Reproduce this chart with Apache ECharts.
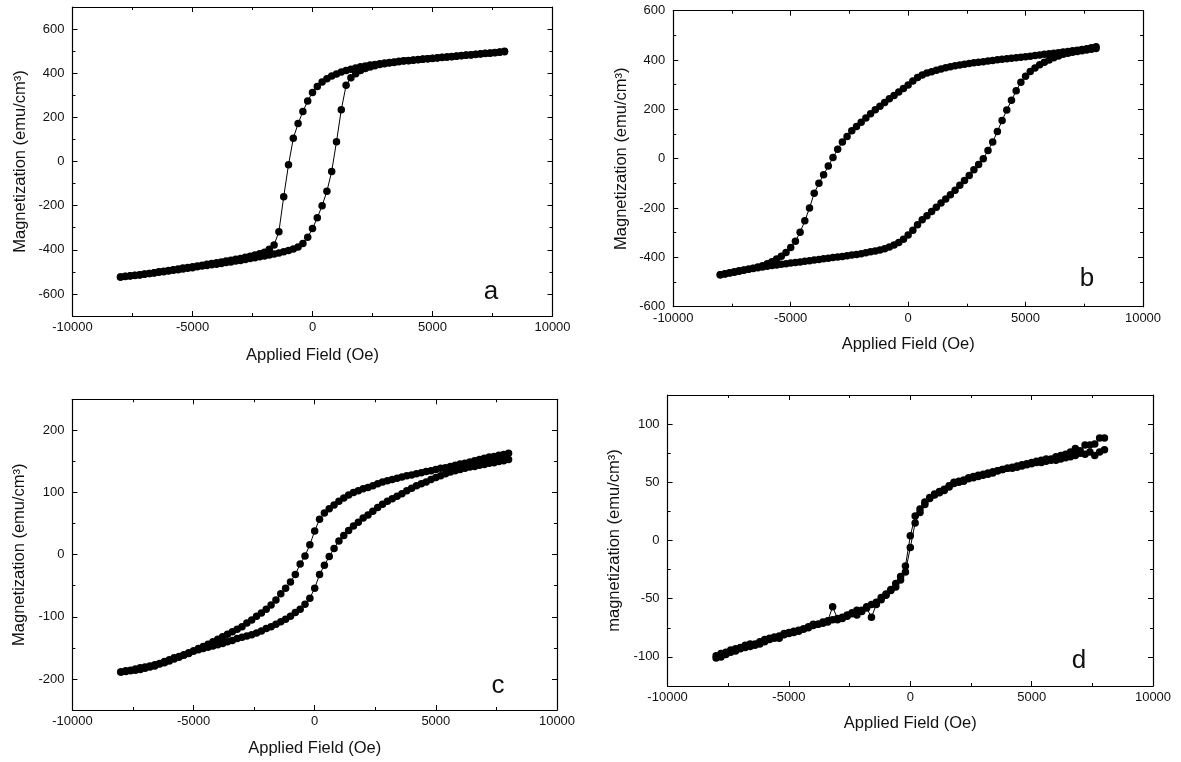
<!DOCTYPE html>
<html>
<head>
<meta charset="utf-8">
<title>Hysteresis loops a-d</title>
<script src="https://cdn.jsdelivr.net/npm/echarts@6/dist/echarts.min.js"></script>
<style>
html, body { margin: 0; padding: 0; background: #fff; }
#chart { width: 1181px; height: 762px; }
</style>
</head>
<body>
<div id="chart"></div>
<script>
'use strict';
// 外加磁场 (Oe)，四个样品共用同一组扫描点
var FIELD = [-8000, -7800, -7600, -7400, -7200, -7000, -6800, -6600, -6400, -6200,
    -6000, -5800, -5600, -5400, -5200, -5000, -4800, -4600, -4400, -4200,
    -4000, -3800, -3600, -3400, -3200, -3000, -2800, -2600, -2400, -2200,
    -2000, -1800, -1600, -1400, -1200, -1000, -800, -600, -400, -200,
    0, 200, 400, 600, 800, 1000, 1200, 1400, 1600, 1800,
    2000, 2200, 2400, 2600, 2800, 3000, 3200, 3400, 3600, 3800,
    4000, 4200, 4400, 4600, 4800, 5000, 5200, 5400, 5600, 5800,
    6000, 6200, 6400, 6600, 6800, 7000, 7200, 7400, 7600, 7800, 8000];

// 样品 a：下降支 / 上升支 (emu/cm3)，按 FIELD 顺序
var A_DOWN = [-523, -520, -518, -515, -513, -510, -507, -504, -500, -497,
    -494, -490, -487, -483, -480, -477, -473, -470, -466, -462,
    -459, -455, -451, -447, -443, -439, -434, -429, -424, -418,
    -411, -398, -378, -318, -160, -15, 105, 172, 226, 274,
    313, 340, 360, 375, 387, 397, 405, 412, 418, 424,
    429, 433, 437, 440, 443, 446, 449, 451, 454, 456,
    458, 460, 462, 464, 466, 468, 470, 472, 474, 476,
    478, 480, 482, 484, 486, 488, 490, 492, 494, 496, 499];
var A_UP = [-523, -521, -519, -516, -514, -511, -508, -505, -502, -499,
    -496, -493, -490, -487, -484, -481, -477, -474, -471, -468,
    -465, -462, -458, -455, -451, -448, -444, -440, -436, -432,
    -428, -424, -419, -414, -409, -403, -396, -387, -372, -343,
    -304, -255, -200, -135, -45, 90, 235, 345, 380, 398,
    412, 421, 428, 434, 439, 443, 446, 449, 452, 455,
    457, 459, 461, 463, 465, 467, 469, 471, 473, 475,
    477, 479, 481, 483, 485, 487, 489, 491, 493, 495, 497];

// 样品 b
var B_DOWN = [-470, -467, -463, -460, -456, -452, -448, -444, -439, -434,
    -426, -418, -407, -395, -380, -360, -335, -298, -252, -200,
    -140, -100, -65, -30, 5, 38, 68, 90, 113, 131,
    148, 165, 182, 198, 213, 228, 243, 256, 270, 285,
    299, 315, 329, 339, 347, 353, 359, 364, 369, 373,
    377, 380, 383, 386, 389, 391, 393, 396, 398, 401,
    403, 405, 407, 409, 411, 413, 415, 418, 420, 423,
    425, 428, 430, 433, 435, 438, 440, 443, 446, 450, 454];
var B_UP = [-470, -466, -462, -458, -454, -451, -448, -445, -442, -439,
    -436, -433, -431, -428, -426, -423, -421, -419, -416, -414,
    -411, -409, -406, -404, -401, -399, -396, -393, -390, -388,
    -385, -381, -377, -374, -370, -365, -358, -350, -340, -327,
    -309, -290, -268, -248, -231, -214, -197, -180, -163, -146,
    -128, -108, -88, -68, -45, -24, 0, 33, 68, 110,
    155, 197, 237, 275, 310, 334, 354, 368, 381, 391,
    400, 409, 416, 423, 428, 432, 435, 438, 441, 444, 447];

// 样品 c
var C_DOWN = [-189, -188, -187, -186, -185, -183, -181, -179, -176, -174,
    -171, -168, -165, -162, -159, -155, -151, -148, -144, -140,
    -136, -132, -128, -124, -120, -116, -110, -105, -99, -94,
    -88, -81, -73, -63, -54, -44, -32, -15, -2, 16,
    38, 57, 67, 74, 80, 86, 91, 96, 100, 103,
    106, 108, 111, 114, 117, 119, 121, 123, 125, 127,
    128, 130, 132, 134, 135, 137, 139, 140, 142, 144,
    146, 147, 149, 151, 153, 155, 157, 158, 160, 161, 163];
var C_UP = [-189, -187, -186, -184, -182, -181, -179, -177, -175, -172,
    -169, -166, -164, -161, -158, -155, -153, -151, -149, -147,
    -145, -143, -140, -138, -135, -133, -131, -129, -126, -123,
    -119, -116, -112, -108, -104, -99, -93, -88, -80, -70,
    -54, -32, -17, -3, 10, 22, 31, 39, 46, 52,
    59, 64, 70, 76, 81, 86, 90, 94, 98, 103,
    107, 111, 114, 117, 121, 124, 127, 130, 133, 135,
    137, 139, 141, 142, 144, 145, 147, 148, 150, 151, 153];

// 样品 d
var D_DOWN = [-99, -97, -96, -94, -93, -92, -90, -89, -89, -87,
    -85, -84, -83, -82, -80, -79, -78, -77, -76, -74,
    -72, -72, -70, -69, -57, -67, -66, -64, -62, -60,
    -60, -57, -55, -53, -49, -46, -42, -37, -31, -22,
    4, 21, 27, 33, 37, 40, 42, 44, 47, 50,
    51, 52, 54, 54, 56, 57, 58, 59, 60, 61,
    62, 63, 64, 65, 66, 67, 68, 69, 70, 70,
    72, 73, 74, 76, 79, 77, 82, 82, 83, 88, 88];
var D_UP = [-101, -100, -98, -96, -95, -93, -92, -91, -90, -89,
    -87, -85, -84, -84, -81, -80, -79, -78, -76, -75,
    -73, -72, -71, -70, -68, -68, -67, -65, -63, -64,
    -61, -58, -66, -55, -51, -47, -43, -40, -34, -27,
    -6, 15, 24, 31, 36, 39, 41, 43, 46, 49,
    50, 51, 53, 55, 55, 56, 57, 58, 60, 61,
    62, 62, 63, 64, 65, 66, 67, 67, 68, 69,
    69, 70, 71, 72, 73, 75, 74, 76, 73, 76, 78];

// 刻度标签
var X_TICKS = [-10000, -5000, 0, 5000, 10000];
var Y_TICKS_A = [-600, -400, -200, 0, 200, 400, 600];
var Y_TICKS_B = [-600, -400, -200, 0, 200, 400, 600];
var Y_TICKS_C = [-200, -100, 0, 100, 200];
var Y_TICKS_D = [-100, -50, 0, 50, 100];

var FONT = "'Liberation Sans', Arial, sans-serif";

var PANELS = [
    { rect: { left: 72.5, top: 7, width: 480, height: 309 }, yMin: -700, yMax: 700, yTicks: Y_TICKS_A,
      down: A_DOWN, up: A_UP, yName: 'Magnetization (emu/cm\u00B3)', xGap: 31, yGap: 44,
      letter: 'a', letterPos: [491, 292] },
    { rect: { left: 673.3, top: 10.7, width: 469.7, height: 296 }, yMin: -600, yMax: 600, yTicks: Y_TICKS_B,
      down: B_DOWN, up: B_UP, yName: 'Magnetization (emu/cm\u00B3)', xGap: 29, yGap: 43,
      letter: 'b', letterPos: [1087, 279] },
    { rect: { left: 72.4, top: 399.3, width: 484.6, height: 310.7 }, yMin: -250, yMax: 250, yTicks: Y_TICKS_C,
      down: C_DOWN, up: C_UP, yName: 'Magnetization (emu/cm\u00B3)', xGap: 30, yGap: 44,
      letter: 'c', letterPos: [498, 686] },
    { rect: { left: 667.6, top: 395, width: 485.4, height: 291 }, yMin: -125, yMax: 125, yTicks: Y_TICKS_D,
      down: D_DOWN, up: D_UP, yName: 'magnetization (emu/cm\u00B3)', xGap: 29, yGap: 45,
      letter: 'd', letterPos: [1079, 661] }
];

// 主刻度之间的次刻度
function midTicks(ticks, lo, hi) {
    var step = ticks[1] - ticks[0];
    var out = [];
    for (var v = ticks[0] - step / 2; v < hi; v += step) {
        if (v > lo) out.push(v);
    }
    return out;
}

// 下降支从 +H 扫到 -H，再接上升支
function loopPoints(down, up) {
    var pts = [];
    var i;
    for (i = FIELD.length - 1; i >= 0; i--) pts.push([FIELD[i], down[i]]);
    for (i = 0; i < FIELD.length; i++) pts.push([FIELD[i], up[i]]);
    return pts;
}

function plainLabel(v) { return String(v); }

var xAxes = [], yAxes = [], grids = [], series = [], graphics = [];
var LINE = { color: '#000', width: 1.2 };
var TICK = { color: '#000', width: 1 };
var NAME_STYLE = { color: '#111', fontSize: 16.5, fontFamily: FONT };
var LABEL_STYLE = { color: '#111', fontSize: 13, fontFamily: FONT };

PANELS.forEach(function (p, g) {
    grids.push({ left: p.rect.left, top: p.rect.top, width: p.rect.width, height: p.rect.height,
        containLabel: false, outerBoundsMode: 'none' });

    var xMinor = midTicks(X_TICKS, -10000, 10000);
    var yMinor = midTicks(p.yTicks, p.yMin, p.yMax);

    var xMain = xAxes.length;
    ['bottom', 'top'].forEach(function (pos) {
        var main = pos === 'bottom';
        xAxes.push({
            gridIndex: g, type: 'value', position: pos, min: -10000, max: 10000,
            axisLine: { show: true, onZero: false, lineStyle: LINE },
            axisTick: { show: true, inside: true, length: 5, customValues: X_TICKS, lineStyle: TICK },
            axisLabel: main ? Object.assign({ show: true, margin: 5, customValues: X_TICKS, formatter: plainLabel }, LABEL_STYLE) : { show: false },
            splitLine: { show: false },
            name: main ? 'Applied Field (Oe)' : '',
            nameLocation: 'middle', nameGap: p.xGap, nameTextStyle: NAME_STYLE
        });
        xAxes.push({
            gridIndex: g, type: 'value', position: pos, min: -10000, max: 10000,
            axisLine: { show: false, onZero: false },
            axisTick: { show: true, inside: true, length: 3, customValues: xMinor, lineStyle: TICK },
            axisLabel: { show: false }, splitLine: { show: false }
        });
    });

    var yMain = yAxes.length;
    ['left', 'right'].forEach(function (pos) {
        var main = pos === 'left';
        yAxes.push({
            gridIndex: g, type: 'value', position: pos, min: p.yMin, max: p.yMax,
            axisLine: { show: true, onZero: false, lineStyle: LINE },
            axisTick: { show: true, inside: true, length: 5, customValues: p.yTicks, lineStyle: TICK },
            axisLabel: main ? Object.assign({ show: true, margin: 8, customValues: p.yTicks, formatter: plainLabel }, LABEL_STYLE) : { show: false },
            splitLine: { show: false },
            name: main ? p.yName : '',
            nameLocation: 'middle', nameGap: p.yGap, nameTextStyle: NAME_STYLE
        });
        yAxes.push({
            gridIndex: g, type: 'value', position: pos, min: p.yMin, max: p.yMax,
            axisLine: { show: false, onZero: false },
            axisTick: { show: true, inside: true, length: 3, customValues: yMinor, lineStyle: TICK },
            axisLabel: { show: false }, splitLine: { show: false }
        });
    });

    series.push({
        type: 'line', xAxisIndex: xMain, yAxisIndex: yMain,
        data: loopPoints(p.down, p.up),
        symbol: 'circle', symbolSize: 7.5, showSymbol: true, showAllSymbol: true,
        itemStyle: { color: '#000', borderWidth: 0 },
        lineStyle: { color: '#000', width: 1 },
        silent: true, animation: false, z: 3
    });

    graphics.push({
        type: 'text', x: p.letterPos[0], y: p.letterPos[1], silent: true,
        style: { text: p.letter, fill: '#111', font: '26px ' + FONT, textAlign: 'center', textVerticalAlign: 'middle' }
    });
});

var chart = echarts.init(document.getElementById('chart'), null, { renderer: 'canvas' });
chart.setOption({
    backgroundColor: '#fff',
    animation: false,
    grid: grids,
    xAxis: xAxes,
    yAxis: yAxes,
    series: series,
    graphic: graphics
});
</script>
</body>
</html>
